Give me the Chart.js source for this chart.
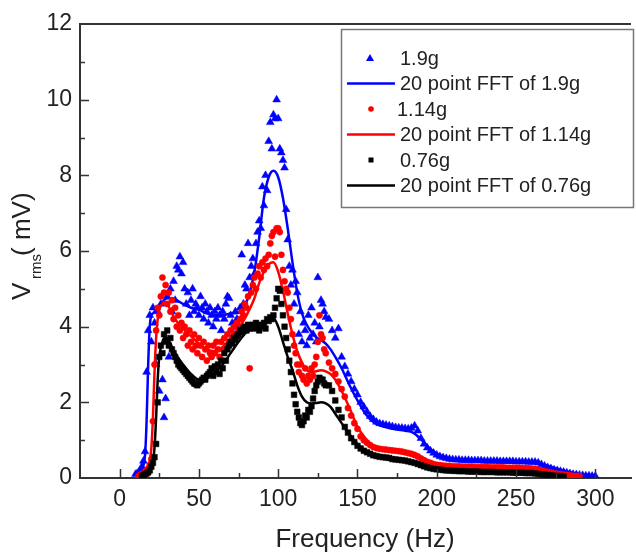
<!DOCTYPE html>
<html>
<head>
<meta charset="utf-8">
<script src="https://cdn.jsdelivr.net/npm/chart.js@4.4.0/dist/chart.umd.min.js"></script>
<style>
  html, body { margin: 0; padding: 0; background: #fff; }
</style>
</head>
<body>
<canvas id="chart" width="636" height="554"></canvas>
<script>
// Vrms vs frequency, three accelerations + 20 point FFT smoothing

const FONT = "'Liberation Sans', Arial, sans-serif";

// raw sweep frequencies (Hz)
const freqs = [
  10,11,12,13,14,15,16,17,18,19,
  20,21,22,23,24,25,26,27,28,29,
  30,31,32,33,34,35,36,37,38,39,
  40,41,42,43,44,45,46,47,48,49,
  50,51,52,53,54,55,56,57,58,59,
  60,61,62,63,64,65,66,67,68,69,
  70,71,72,73,74,75,76,77,78,79,
  80,81,82,83,84,85,86,87,88,89,
  90,91,92,93,94,95,96,97,98,99,
  100,101,102,103,104,105,106,107,108,109,
  110,111,112,113,114,115,116,117,118,119,
  120,121,122,123,124,125,126,127,128,129,
  130,
  132,134,136,138,140,142,144,146,148,150,
  152,154,156,158,160,162,164,166,168,170,
  172,174,176,178,180,182,184,186,188,190,
  192,194,196,198,200,202,204,206,208,210,
  212,214,216,218,220,222,224,226,228,230,
  232,234,236,238,240,242,244,246,248,250,
  252,254,256,258,260,262,264,266,268,270,
  272,274,276,278,280,282,284,286,288,290,
  292,294,296,298,300
];

const raw19 = [
  0.10,0.12,0.15,0.20,0.30,0.45,0.70,2.80,3.90,4.30,
  3.60,4.50,4.10,3.00,4.40,2.30,4.60,2.60,1.60,2.10,
  4.80,3.20,5.00,4.40,5.20,4.70,5.60,5.50,5.85,5.40,
  5.70,5.00,4.60,4.90,4.30,4.70,5.00,4.40,4.60,4.50,
  4.30,4.80,4.50,4.20,4.60,4.40,4.10,4.50,4.30,4.00,
  4.40,4.20,4.50,4.30,3.90,4.40,4.20,4.60,4.80,4.75,
  4.30,4.10,3.80,4.40,4.20,4.00,4.50,5.90,4.60,5.10,
  5.00,6.20,5.30,5.60,5.80,5.40,6.20,6.50,6.80,6.60,
  7.70,7.20,8.00,7.60,8.90,9.40,8.70,9.60,9.50,10.00,
  9.50,8.70,8.60,8.40,8.20,7.10,6.30,5.60,5.10,5.50,
  4.60,5.20,4.90,3.80,4.40,3.60,4.10,3.90,3.50,4.30,
  3.70,4.50,3.80,4.10,3.60,5.30,4.00,4.70,4.60,4.40,
  4.25,
  4.20,3.90,3.70,3.95,3.20,2.95,2.75,2.55,2.35,2.20,
  2.00,1.88,1.75,1.63,1.55,1.48,1.44,1.42,1.40,1.38,
  1.36,1.34,1.33,1.32,1.31,1.30,1.32,1.38,1.25,1.05,
  0.90,0.80,0.72,0.66,0.61,0.57,0.54,0.52,0.50,0.49,
  0.48,0.48,0.47,0.47,0.47,0.46,0.46,0.46,0.46,0.45,
  0.45,0.45,0.45,0.45,0.44,0.44,0.44,0.44,0.44,0.43,
  0.43,0.43,0.43,0.42,0.42,0.42,0.40,0.36,0.32,0.28,
  0.25,0.22,0.20,0.18,0.16,0.14,0.12,0.10,0.09,0.08,
  0.07,0.06,0.06,0.05,0.05
];

const raw114 = [
  null,null,0.05,0.08,0.10,0.12,0.15,0.20,0.25,0.35,
  0.50,1.50,3.00,3.90,4.50,4.30,4.80,5.30,4.90,5.10,
  4.60,4.90,4.40,4.70,4.20,4.50,4.00,4.30,3.90,4.10,
  3.70,4.00,3.80,3.50,3.90,3.60,3.40,3.80,3.50,3.30,
  3.70,3.50,3.20,3.60,3.40,3.10,3.50,3.30,3.20,3.50,
  3.30,3.60,3.40,3.20,3.60,3.40,3.70,3.50,3.80,3.60,
  3.90,3.70,4.00,3.80,4.10,3.90,4.20,4.40,4.30,4.60,
  4.50,4.80,2.90,4.90,5.10,5.30,5.00,5.40,5.60,5.30,
  5.70,5.50,5.80,5.60,5.90,6.20,6.40,6.50,5.85,6.60,
  6.60,6.50,5.90,5.50,5.20,5.00,4.90,4.50,4.20,3.80,
  3.50,3.30,3.00,2.80,3.00,2.70,2.60,2.90,2.50,2.70,
  2.60,2.90,2.70,3.00,3.20,3.60,4.30,3.80,3.70,3.40,
  3.30,
  3.05,2.90,2.75,2.55,2.35,2.15,1.85,1.65,1.45,1.30,
  1.10,1.00,0.93,0.87,0.82,0.79,0.77,0.76,0.75,0.74,
  0.73,0.72,0.71,0.70,0.68,0.66,0.64,0.61,0.57,0.52,
  0.47,0.43,0.40,0.37,0.35,0.34,0.33,0.32,0.32,0.31,
  0.31,0.31,0.30,0.30,0.30,0.30,0.29,0.29,0.29,0.29,
  0.29,0.28,0.28,0.28,0.28,0.28,0.27,0.27,0.27,0.27,
  0.27,0.26,0.26,0.26,0.25,0.24,0.22,0.20,0.18,0.16,
  0.14,0.12,0.11,0.10,0.09,0.08,0.07,0.06,0.05,0.05,
  null,null,null,null,null
];

const raw076 = [
  null,null,null,null,0.05,0.07,0.10,0.12,0.15,0.20,
  0.30,0.40,0.55,0.90,2.00,3.20,3.50,3.30,3.80,3.60,
  3.90,3.50,3.70,3.40,3.30,3.20,3.10,3.00,2.95,2.90,
  2.85,2.80,2.75,2.70,2.65,2.60,2.55,2.50,2.48,2.45,
  2.50,2.55,2.60,2.65,2.60,2.70,2.75,2.80,2.90,2.70,
  2.95,2.80,3.00,2.75,3.10,2.90,3.30,3.10,3.40,3.50,
  3.60,3.55,3.70,3.65,3.75,3.80,3.90,3.85,3.95,4.00,
  3.90,4.05,3.95,4.00,4.05,3.95,4.10,4.00,3.90,4.05,
  4.00,4.10,3.95,4.20,4.15,4.25,4.20,4.30,4.50,4.75,
  5.00,4.95,4.60,4.30,4.00,3.70,3.40,3.10,2.80,2.50,
  2.20,1.95,1.75,1.60,1.45,1.40,1.50,1.65,1.60,1.80,
  1.75,1.90,2.10,2.30,2.45,2.55,2.65,2.60,2.60,2.50,
  2.45,
  2.45,2.30,2.05,1.80,1.60,1.35,1.20,1.05,0.95,0.85,
  0.78,0.72,0.68,0.64,0.60,0.58,0.56,0.55,0.54,0.53,
  0.50,0.49,0.48,0.47,0.46,0.44,0.42,0.40,0.37,0.34,
  0.31,0.28,0.26,0.24,0.23,0.22,0.21,0.20,0.20,0.19,
  0.19,0.18,0.18,0.18,0.17,0.17,0.17,0.17,0.16,0.16,
  0.16,0.16,0.16,0.15,0.15,0.15,0.15,0.15,0.14,0.14,
  0.14,0.14,0.13,0.13,0.13,0.12,0.11,0.10,0.09,0.08,
  0.07,0.06,0.05,0.05,0.04,null,null,null,null,null,
  null,null,null,null,null
];

// smoothed (20 point FFT) curves
const fftFreqs = [
  10,12,14,16,17,18,19,20,21,22,
  23,24,25,26,27,28,30,32,35,40,
  45,50,55,60,65,70,75,80,85,88,
  91,94,97,100,103,106,109,112,115,118,
  121,124,127,130,133,136,140,145,150,155,
  160,165,170,175,180,185,190,195,200,210,
  220,230,240,250,260,270,280,290,300
];

const fft19 = [
  0.10,0.15,0.25,0.60,1.50,3.00,4.00,4.30,4.35,4.40,
  4.45,4.50,4.55,4.60,4.65,4.70,4.75,4.75,4.72,4.60,
  4.50,4.45,4.35,4.30,4.30,4.35,4.38,4.65,5.45,6.35,
  7.40,7.95,8.12,7.95,7.40,6.60,5.70,4.90,4.35,4.05,
  3.85,3.72,3.65,3.55,3.40,3.20,2.90,2.45,2.05,1.70,
  1.48,1.38,1.32,1.28,1.25,1.20,1.02,0.80,0.64,0.50,
  0.46,0.44,0.43,0.42,0.41,0.32,0.19,0.10,0.06
];

const fft114 = [
  null,0.05,0.10,0.15,0.20,0.30,0.45,0.80,1.60,2.80,
  3.70,4.20,4.45,4.55,4.60,4.65,4.60,4.45,4.20,3.95,
  3.75,3.55,3.40,3.35,3.45,3.65,3.95,4.30,4.75,5.15,
  5.45,5.65,5.70,5.45,4.95,4.35,3.80,3.35,3.05,2.85,
  2.80,2.82,2.85,2.82,2.75,2.60,2.30,1.85,1.35,1.05,
  0.85,0.76,0.72,0.68,0.64,0.58,0.50,0.42,0.36,0.31,
  0.29,0.28,0.27,0.26,0.25,0.20,0.12,0.06,null
];

const fft076 = [
  null,null,0.05,0.10,0.12,0.15,0.20,0.30,0.45,0.80,
  1.60,2.60,3.20,3.45,3.60,3.70,3.70,3.55,3.30,3.00,
  2.75,2.60,2.65,2.80,3.00,3.30,3.60,3.85,3.95,4.00,
  4.05,4.15,4.22,4.00,3.60,3.20,2.85,2.45,2.15,2.00,
  1.97,1.98,2.00,1.97,1.88,1.70,1.45,1.15,0.90,0.72,
  0.60,0.56,0.53,0.50,0.45,0.40,0.32,0.26,0.22,0.18,
  0.16,0.16,0.15,0.14,0.12,0.08,0.04,null,null
];

const xMajor = [0, 50, 100, 150, 200, 250, 300];
const xMinor = [25, 75, 125, 175, 225, 275];
const yMajor = [0, 2, 4, 6, 8, 10, 12];
const yMinor = [1, 3, 5, 7, 9, 11];

const legendLabels = ['1.9g', '20 point FFT of 1.9g', '1.14g', '20 point FFT of 1.14g', '0.76g', '20 point FFT of 0.76g'];

function pts(xs, ys) {
  return xs.map((x, i) => ({ x: x, y: ys[i] })).filter(p => p.y !== null);
}

function rawSet(label, xs, ys, color, style, radius, order) {
  return {
    type: 'scatter',
    label: label,
    data: pts(xs, ys),
    pointStyle: style,
    pointRadius: radius,
    backgroundColor: color,
    borderColor: color,
    borderWidth: 0.5,
    order: order
  };
}

function fftSet(label, xs, ys, color, order) {
  return {
    type: 'line',
    label: label,
    data: pts(xs, ys),
    borderColor: color,
    borderWidth: 2.5,
    pointRadius: 0,
    fill: false,
    cubicInterpolationMode: 'monotone',
    order: order
  };
}

// inward ticks, top frame, axis titles, legend box
const decor = {
  id: 'decor',
  afterDraw(chart) {
    const ctx = chart.ctx;
    const xs = chart.scales.x, ys = chart.scales.y;
    const a = chart.chartArea;
    ctx.save();
    ctx.strokeStyle = '#333';
    ctx.lineWidth = 2;
    ctx.beginPath();
    ctx.moveTo(a.left, a.top);
    ctx.lineTo(a.right, a.top);
    ctx.stroke();

    ctx.lineWidth = 1.5;
    ctx.beginPath();
    xMajor.concat(xMinor).forEach(v => {
      const px = Math.round(xs.getPixelForValue(v)) + 0.5;
      const len = xMajor.includes(v) ? 9 : 5;
      ctx.moveTo(px, a.bottom);
      ctx.lineTo(px, a.bottom - len);
    });
    yMajor.concat(yMinor).forEach(v => {
      if (v === 0 || v === 12) return;
      const py = Math.round(ys.getPixelForValue(v)) + 0.5;
      const len = yMajor.includes(v) ? 9 : 5;
      ctx.moveTo(a.left, py);
      ctx.lineTo(a.left + len, py);
    });
    ctx.stroke();

    // x title
    ctx.fillStyle = '#222';
    ctx.font = '26px ' + FONT;
    ctx.textAlign = 'center';
    ctx.textBaseline = 'alphabetic';
    ctx.fillText('Frequency (Hz)', 365, 547);

    // y title with subscript
    ctx.save();
    ctx.translate(30, 300);
    ctx.rotate(-Math.PI / 2);
    ctx.textAlign = 'left';
    ctx.font = '26px ' + FONT;
    ctx.fillText('V', 0, 0);
    ctx.font = '15px ' + FONT;
    ctx.fillText('rms', 21, 11);
    ctx.font = '26px ' + FONT;
    ctx.fillText('( mV)', 44, 0);
    ctx.restore();

    // legend
    const bx = 341, by = 29, bw = 292, bh = 178;
    ctx.fillStyle = '#fff';
    ctx.fillRect(bx, by, bw, bh);
    ctx.strokeStyle = '#777';
    ctx.lineWidth = 1.5;
    ctx.strokeRect(bx + 0.5, by + 0.5, bw, bh);

    const rowsY = [58, 83.5, 109, 134.5, 160, 185.5];
    const colors = ['#0000ff', '#0000ff', '#ff0000', '#ff0000', '#000000', '#000000'];
    ctx.font = '20px ' + FONT;
    ctx.textAlign = 'left';
    ctx.textBaseline = 'middle';
    legendLabels.forEach((lab, i) => {
      const y = rowsY[i];
      const c = colors[i];
      ctx.fillStyle = c;
      ctx.strokeStyle = c;
      if (i % 2 === 1) {
        ctx.lineWidth = 2.5;
        ctx.beginPath();
        ctx.moveTo(347, y);
        ctx.lineTo(395, y);
        ctx.stroke();
      } else if (i === 0) {
        ctx.beginPath();
        ctx.moveTo(370, y - 4);
        ctx.lineTo(374, y + 3);
        ctx.lineTo(366, y + 3);
        ctx.closePath();
        ctx.fill();
      } else if (i === 2) {
        ctx.beginPath();
        ctx.arc(371, y, 2.8, 0, Math.PI * 2);
        ctx.fill();
      } else {
        ctx.fillRect(368.5, y - 2.5, 5, 5);
      }
      ctx.fillStyle = '#222';
      ctx.fillText(lab, i === 2 ? 397 : 400, y + 1);
    });
    ctx.restore();
  }
};

new Chart(document.getElementById('chart'), {
  type: 'scatter',
  data: {
    datasets: [
      fftSet(legendLabels[5], fftFreqs, fft076, '#000000', 1),
      rawSet(legendLabels[4], freqs, raw076, '#000000', 'rect', 4, 2),
      fftSet(legendLabels[3], fftFreqs, fft114, '#ff0000', 3),
      rawSet(legendLabels[2], freqs, raw114, '#ff0000', 'circle', 3.1, 4),
      fftSet(legendLabels[1], fftFreqs, fft19, '#0000ff', 5),
      rawSet(legendLabels[0], freqs, raw19, '#0000ff', 'triangle', 4.5, 6)
    ]
  },
  options: {
    responsive: false,
    animation: false,
    layout: { padding: { top: 24, right: 0, left: 0, bottom: 0 } },
    plugins: {
      legend: { display: false },
      tooltip: { enabled: false }
    },
    scales: {
      x: {
        type: 'linear',
        min: -25,
        max: 322.5,
        afterBuildTicks: s => { s.ticks = xMajor.map(v => ({ value: v })); },
        afterFit: s => { s.height = 76; },
        grid: { display: false, drawTicks: false },
        border: { display: true, color: '#333', width: 2 },
        ticks: { color: '#222', padding: 8, maxRotation: 0, font: { family: FONT, size: 23 } }
      },
      y: {
        min: 0,
        max: 12,
        afterBuildTicks: s => { s.ticks = yMajor.map(v => ({ value: v })); },
        afterFit: s => { s.width = 80; },
        grid: { display: false, drawTicks: false },
        border: { display: true, color: '#333', width: 2 },
        ticks: { color: '#222', padding: 8, font: { family: FONT, size: 23 } }
      }
    }
  },
  plugins: [decor]
});
</script>
</body>
</html>
